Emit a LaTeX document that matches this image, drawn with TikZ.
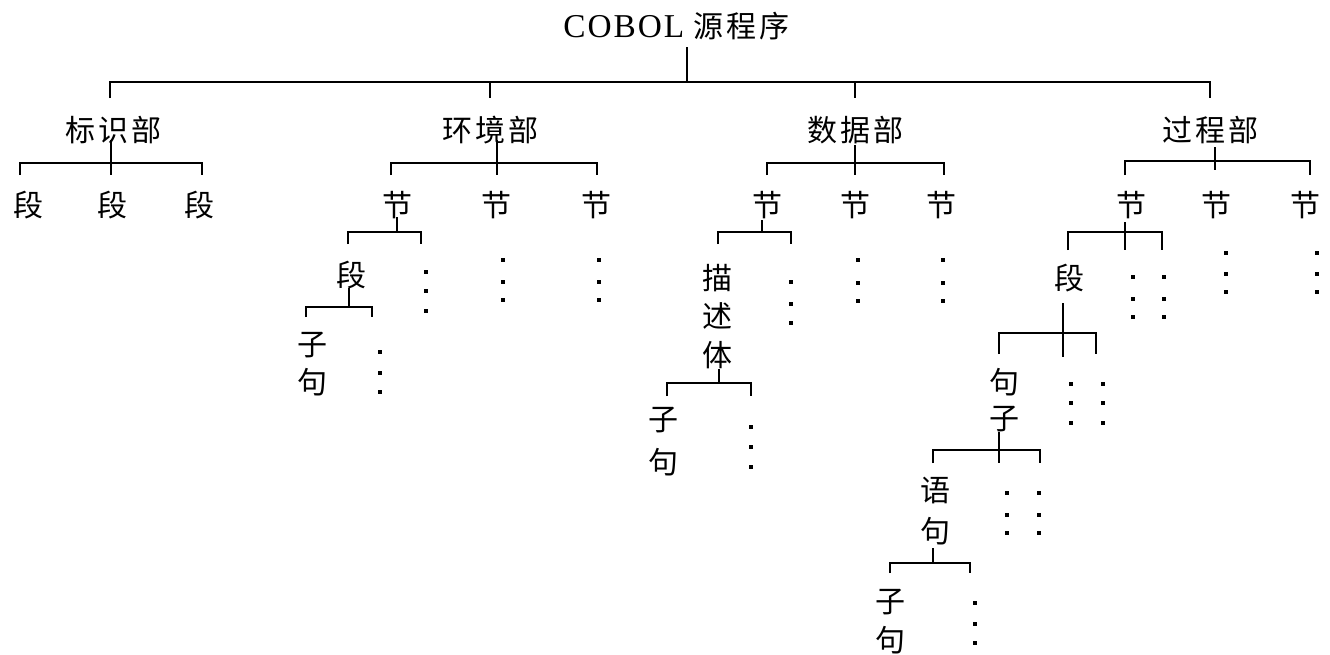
\documentclass[tikz,border=0pt]{standalone}
\usepackage{fontspec}
\setmainfont{Noto Sans CJK SC}
\newfontfamily\cjk[LetterSpace=10]{Noto Sans CJK SC}
\newfontfamily\lserif[LetterSpace=6]{Liberation Serif}
\newcommand\tbar[7]{% xl xr ybar ydrop xstem ytop ybot
  \draw[ln] (#1,#4) -- (#1,#3) -- (#2,#3) -- (#2,#4);
  \draw[ln] (#5,#6) -- (#5,#7);}
\newcommand\dotcol[4]{\foreach \yy in {#2,#3,#4}{\fill ({#1-2.4},{\yy-2.4}) rectangle ({#1+2.4},{\yy+2.4});}}
\begin{document}
\begin{tikzpicture}[x=0.75pt,y=-0.75pt,
  lbl/.style={inner sep=0pt,font=\cjk\fontsize{22.5}{27}\selectfont},
  ln/.style={line width=2pt}]
\useasboundingbox (0,0) rectangle (1330,654);
% title
\node[anchor=west,inner sep=0pt] (title) at (563,26) {{\lserif\fontsize{25}{30}\selectfont COBOL}\hspace{7pt}{\cjk\fontsize{22.5}{27}\selectfont 源程序}};
\draw[ln] (687,47) -- (687,82);
\draw[ln] (110,98) -- (110,82) -- (1210,82) -- (1210,98);
\draw[ln] (490,82) -- (490,98);
\draw[ln] (855,82) -- (855,98);
% level 1
\node[lbl] (id) at (113,130) {标识部};
\node[lbl] (env) at (490,130) {环境部};
\node[lbl] (data) at (855,130) {数据部};
\node[lbl] (proc) at (1210,130) {过程部};
% identification division
\tbar{20}{202}{163}{175}{111}{140}{175}
\node[lbl] (d1) at (28,205) {段};
\node[lbl] (d2) at (112,205) {段};
\node[lbl] (d3) at (199,205) {段};
% environment division
\tbar{391}{597}{163}{175}{497}{140}{175}
\node[lbl] (e1) at (397,205) {节};
\node[lbl] (e2) at (496,205) {节};
\node[lbl] (e3) at (596,205) {节};
\tbar{348}{421}{232}{244}{397}{217}{232}
\node[lbl] (e1p) at (351,275) {段};
\tbar{306}{372}{307}{317}{349}{288}{307}
\node[lbl] (e1c1) at (312,345) {子};
\node[lbl] (e1c2) at (312,382) {句};
\dotcol{380}{352}{373}{392}
\dotcol{426}{272}{291}{311}
\dotcol{503}{260}{282}{300}
\dotcol{599}{260}{282}{300}
% data division
\tbar{767}{944}{163}{175}{855}{145}{175}
\node[lbl] (s1) at (767,205) {节};
\node[lbl] (s2) at (855,205) {节};
\node[lbl] (s3) at (941,205) {节};
\tbar{718}{791}{232}{244}{762}{220}{232}
\node[lbl] (m1) at (717,278) {描};
\node[lbl] (m2) at (717,316) {述};
\node[lbl] (m3) at (717,355) {体};
\tbar{667}{751}{383}{396}{719}{369}{383}
\node[lbl] (mc1) at (663,420) {子};
\node[lbl] (mc2) at (663,462) {句};
\dotcol{751}{427}{447}{467}
\dotcol{791}{282}{304}{323}
\dotcol{858}{260}{283}{301}
\dotcol{943}{260}{283}{301}
% procedure division
\tbar{1125}{1310}{161}{175}{1215}{147}{170}
\node[lbl] (p1) at (1131,205) {节};
\node[lbl] (p2) at (1216,205) {节};
\node[lbl] (p3) at (1305,205) {节};
\tbar{1068}{1162}{232}{250}{1125}{222}{250}
\node[lbl] (pp) at (1069,278) {段};
\dotcol{1133}{277}{299}{317}
\dotcol{1164}{277}{299}{317}
\dotcol{1226}{253}{274}{292}
\dotcol{1317}{253}{274}{292}
\tbar{999}{1096}{333}{354}{1063}{303}{357}
\node[lbl] (ps1) at (1004,382) {句};
\node[lbl] (ps2) at (1004,419) {子};
\dotcol{1071}{384}{403}{423}
\dotcol{1103}{384}{403}{423}
\tbar{933}{1040}{450}{463}{999}{432}{463}
\node[lbl] (st1) at (935,490) {语};
\node[lbl] (st2) at (935,531) {句};
\dotcol{1007}{493}{515}{533}
\dotcol{1039}{493}{515}{533}
\tbar{890}{970}{563}{573}{933}{548}{563}
\node[lbl] (sc1) at (890,602) {子};
\node[lbl] (sc2) at (890,640) {句};
\dotcol{975}{603}{624}{643}
\end{tikzpicture}
\end{document}
